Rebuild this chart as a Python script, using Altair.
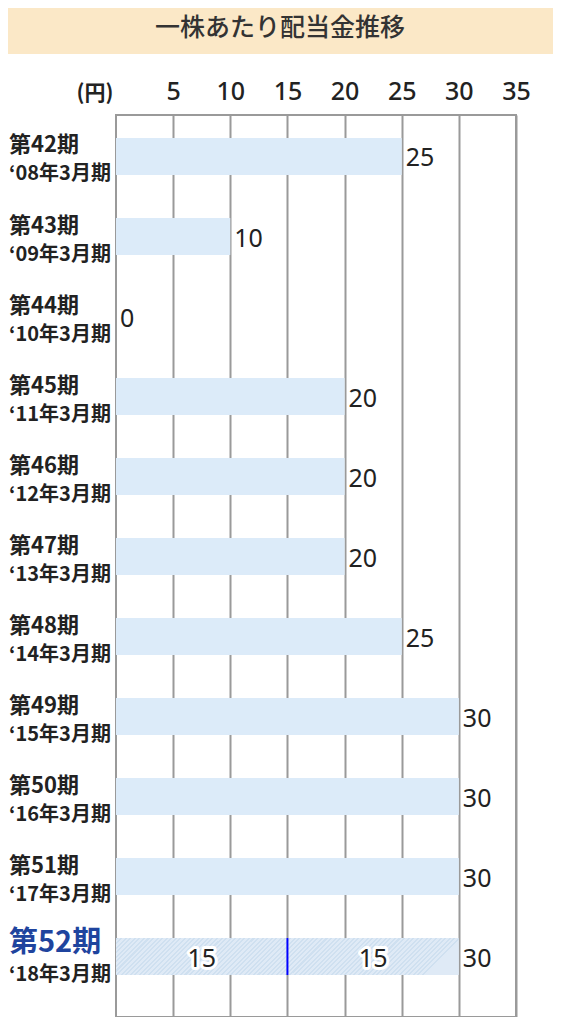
import altair as alt
import pandas as pd

# ---- data ----
title_text = "一株あたり配当金推移"
unit_label = "(円)"
periods = ["第42期", "第43期", "第44期", "第45期", "第46期", "第47期",
           "第48期", "第49期", "第50期", "第51期", "第52期"]
fiscal_years = ["‘08年3月期", "‘09年3月期", "‘10年3月期", "‘11年3月期",
                "‘12年3月期", "‘13年3月期", "‘14年3月期", "‘15年3月期",
                "‘16年3月期", "‘17年3月期", "‘18年3月期"]
dividends = [25, 10, 0, 20, 20, 20, 25, 30, 30, 30, 30]
latest_split = [15, 15]          # interim, year-end for 第52期
x_ticks = [5, 10, 15, 20, 25, 30, 35]

latest = periods[-1]
df = pd.DataFrame({
    "period": periods,
    "fiscal": fiscal_years,
    "dividend": dividends,
    "is_latest": [p == latest for p in periods],
})
starts = [sum(latest_split[:i]) for i in range(len(latest_split))]
split_df = pd.DataFrame({
    "period": [latest] * len(latest_split),
    "start": starts,
    "end": [s + v for s, v in zip(starts, latest_split)],
    "value": latest_split,
})
split_df["mid"] = (split_df["start"] + split_df["end"]) / 2
divider_df = split_df.iloc[1:][["period", "start"]]

# ---- styling ----
FONT = "Noto Sans CJK JP"
NUMFONT = "Noto Sans"
TXT = "#222222"
W, H = 400, 902

xscale = alt.Scale(domain=[0, 35], nice=False, zero=True)
xaxis = alt.Axis(orient="top", values=x_ticks, ticks=False, domain=False,
                 labelFontSize=25, labelFont=NUMFONT, labelColor=TXT,
                 labelFontWeight=500,
                 labelPadding=11, labelFlush=False,
                 grid=True, gridColor="#9a9a9a", gridWidth=2,
                 title=unit_label, titleFont=FONT, titleFontSize=21,
                 titleFontWeight="bold", titleColor=TXT, titleAngle=0,
                 titleX=-3, titleY=-22, titleAlign="right",
                 titleBaseline="middle")
yscale = alt.Scale(domain=periods, paddingInner=0.5375, paddingOuter=0.406,
                   align=0.354)
Y = alt.Y("period:N", sort=periods, scale=yscale, axis=None)


def X(field, **kw):
    return alt.X(field, type="quantitative", scale=xscale, axis=xaxis, **kw)


# hatch gradient for the latest bar (45-degree stripes)
base_c, stripe_c = "#dfeaf6", "#cfe0f0"
n_stripes = 76
stops = []
for i in range(n_stripes):
    a = i / n_stripes
    b = (i + 0.45) / n_stripes
    c = (i + 1) / n_stripes
    stops += [
        {"offset": a, "color": stripe_c},
        {"offset": b, "color": stripe_c},
        {"offset": b, "color": base_c},
        {"offset": c, "color": base_c},
    ]
hatch = alt.LinearGradient(gradient="linear", x1=0, y1=0, x2=1, y2=0.108,
                           stops=stops)

banner_df = pd.DataFrame({"t": [title_text]})
banner = alt.Chart(banner_df).mark_rect(fill="#fbe8c7").encode(
    x=alt.value(-108), x2=alt.value(437), y=alt.value(-107), y2=alt.value(-61)
)
title = alt.Chart(banner_df).mark_text(
    font=FONT, fontSize=25, fontWeight=500, color="#333333",
    align="center", baseline="middle"
).encode(x=alt.value(164), y=alt.value(-87), text="t:N")

bars = alt.Chart(df).transform_filter("!datum.is_latest").mark_bar(
    fill="#dcebf9"
).encode(x=X("dividend"), y=Y)

latest_bar = alt.Chart(df).transform_filter("datum.is_latest").mark_bar(
    fill=hatch
).encode(x=X("dividend"), y=Y)

divider = alt.Chart(divider_df).mark_tick(
    color="#0000ff", thickness=2, size=37, orient="vertical", opacity=1
).encode(x=X("start"), y=Y)

values = alt.Chart(df).mark_text(
    font=NUMFONT, fontSize=25, color=TXT, align="left", baseline="middle",
    dx=4, dy=2
).encode(x=X("dividend"), y=Y, text="dividend:Q")

split_halo = alt.Chart(split_df).mark_text(
    font=NUMFONT, fontSize=25, fill="white", stroke="white", strokeWidth=6,
    strokeJoin="round", align="center", baseline="middle", dy=2
).encode(x=X("mid"), y=Y, text="value:Q")
split_text = alt.Chart(split_df).mark_text(
    font=NUMFONT, fontSize=25, color=TXT, align="center", baseline="middle",
    dy=2
).encode(x=X("mid"), y=Y, text="value:Q")

lab1 = alt.Chart(df).transform_filter("!datum.is_latest").mark_text(
    font=FONT, fontSize=22, fontWeight="bold", color=TXT, align="left",
    baseline="middle", dy=-11
).encode(x=alt.value(-107), y=Y, text="period:N")
lab1_latest = alt.Chart(df).transform_filter("datum.is_latest").mark_text(
    font=FONT, fontSize=29, fontWeight="bold", color="#1f449e", align="left",
    baseline="middle", dy=-14
).encode(x=alt.value(-107), y=Y, text="period:N")
lab2 = alt.Chart(df).mark_text(
    font=FONT, fontSize=20, fontWeight="bold", color=TXT, align="left",
    baseline="middle", dy=18
).encode(x=alt.value(-107), y=Y, text="fiscal:N")

chart = alt.layer(
    banner, title, bars, latest_bar, divider, values, split_halo, split_text,
    lab1, lab1_latest, lab2
).properties(
    width=W, height=H,
    autosize=alt.AutoSizeParams(type="none"),
    padding={"left": 108, "top": 107, "right": 37, "bottom": 0},
    background="white",
).configure_view(stroke="#9a9a9a", strokeWidth=2)

chart.save("out.html", embed_options={"renderer": "svg", "actions": False})
